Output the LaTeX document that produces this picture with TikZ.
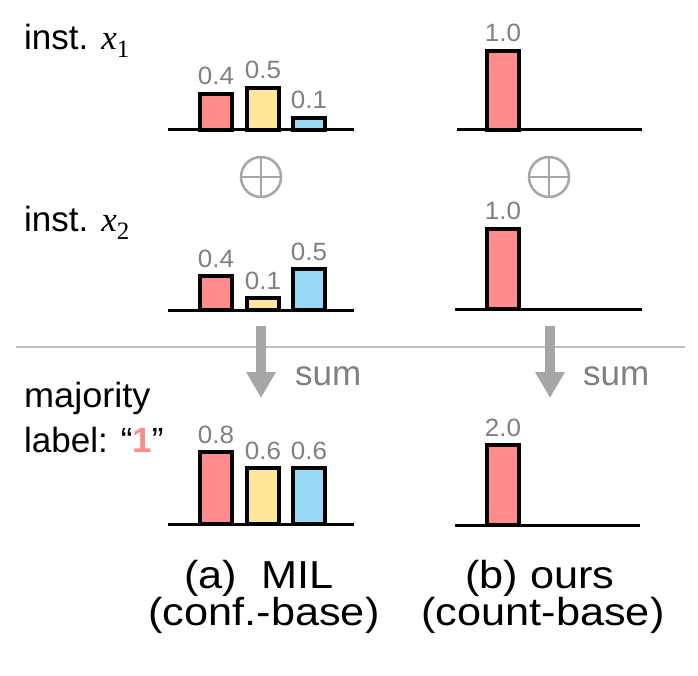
\documentclass[tikz,border=0pt]{standalone}
\usepackage{fontspec}
\usepackage{graphicx}
\setmainfont{Liberation Sans}
\newfontfamily\mathlike{Liberation Serif}
\usetikzlibrary{arrows.meta}
\definecolor{barred}{HTML}{FF8C8C}
\definecolor{baryel}{HTML}{FFE699}
\definecolor{barblu}{HTML}{99D9F5}
\definecolor{numgray}{HTML}{808080}
\definecolor{arrgray}{HTML}{A6A6A6}
\definecolor{sepgray}{HTML}{BFBFBF}
\newcommand{\hs}[2]{\scalebox{#1}[1]{#2}}
\newcommand{\instvar}[1]{{\mathlike\itshape x}\raisebox{-0.22em}{\mathlike\fontsize{25}{25}\selectfont #1}}
\tikzset{
  barbox/.style={draw=black, line width=3.2pt},
  axisline/.style={draw=black, line width=3pt},
  numlbl/.style={text=numgray, font=\fontsize{25}{27}\selectfont, anchor=base, inner sep=0pt},
  lbltext/.style={font=\fontsize{35}{38}\selectfont, anchor=base west, inner sep=0pt},
  sumtext/.style={text=numgray, font=\fontsize{35}{38}\selectfont, anchor=base west, inner sep=0pt},
  captext/.style={font=\fontsize{39}{42}\selectfont, anchor=base, inner sep=0pt},
  oplus/.style={circle, draw=arrgray, line width=2.5pt, minimum size=40pt, inner sep=0pt},
  bigarrow/.style={draw=arrgray, line width=10pt, -{Triangle[width=28pt,length=26pt]}},
}
\newcommand{\mybar}[6]{%
  \fill[#5] (#2,#4) rectangle ++(32,{#3-#4});
  \draw[barbox] (#2,#4) rectangle ++(32,{#3-#4});
  \node[numlbl] (#1) at ({#2+16},{#3-9}) {\hs{1.04}{#6}};
}
\begin{document}
\begin{tikzpicture}[x=1pt,y=-1pt]
\useasboundingbox (0,0) rectangle (698,676);
\fill[white] (0,0) rectangle (698,676);

% left labels
\node[lbltext] (i1) at (24,50) {inst. \instvar{1}};
\node[lbltext] (i2) at (24,232) {inst. \instvar{2}};
\node[lbltext] (maj) at (24,407) {\hs{1.03}{majority}};
\node[lbltext] (lab) at (24,452) {label: “\textcolor{barred}{\textbf{1}}”};

% panel a1
\mybar{a11}{200}{94}{130}{barred}{0.4}
\mybar{a12}{247}{88}{130}{baryel}{0.5}
\mybar{a13}{293}{118}{130}{barblu}{0.1}
\draw[axisline] (168,130) -- (354,130);
% panel a2
\mybar{a21}{200}{276}{310}{barred}{0.4}
\mybar{a22}{247}{298}{310}{baryel}{0.1}
\mybar{a23}{293}{269}{310}{barblu}{0.5}
\draw[axisline] (168,310) -- (354,310);
% panel a3
\mybar{a31}{200}{452}{524}{barred}{0.8}
\mybar{a32}{247}{468}{524}{baryel}{0.6}
\mybar{a33}{293}{468}{524}{barblu}{0.6}
\draw[axisline] (168,524) -- (354,524);

% panel b1
\mybar{b11}{487}{51}{130}{barred}{1.0}
\draw[axisline] (457,130) -- (642,130);
% panel b2
\mybar{b21}{487}{229}{309}{barred}{1.0}
\draw[axisline] (455,309) -- (642,309);
% panel b3
\mybar{b31}{487}{445}{525}{barred}{2.0}
\draw[axisline] (455,525) -- (640,525);

% oplus
\node[oplus] (pa) at (261,177) {};
\draw[arrgray, line width=2.5pt] (pa.north) -- (pa.south) (pa.west) -- (pa.east);
\node[oplus] (pb) at (549,177) {};
\draw[arrgray, line width=2.5pt] (pb.north) -- (pb.south) (pb.west) -- (pb.east);

% separator
\coordinate (sl) at (16,347);
\coordinate (sr) at (685,347);
\draw[sepgray, line width=2pt] (sl) -- (sr);

% arrows
\coordinate (asa) at (261,326);
\coordinate (aea) at (261,398);
\draw[bigarrow] (asa) -- (aea);
\coordinate (asb) at (550,326);
\coordinate (aeb) at (550,398);
\draw[bigarrow] (asb) -- (aeb);
\node[sumtext] (suma) at (295,385) {sum};
\node[sumtext] (sumb) at (583,385) {sum};

% captions
\node[captext] (ca1) at (259,588) {\hs{1.11}{(a)\ \ MIL}};
\node[captext] (ca2) at (264,625) {\hs{1.11}{(conf.-base)}};
\node[captext] (cb1) at (540,588) {\hs{1.11}{(b) ours}};
\node[captext] (cb2) at (543,625) {\hs{1.11}{(count-base)}};
\end{tikzpicture}
\end{document}
